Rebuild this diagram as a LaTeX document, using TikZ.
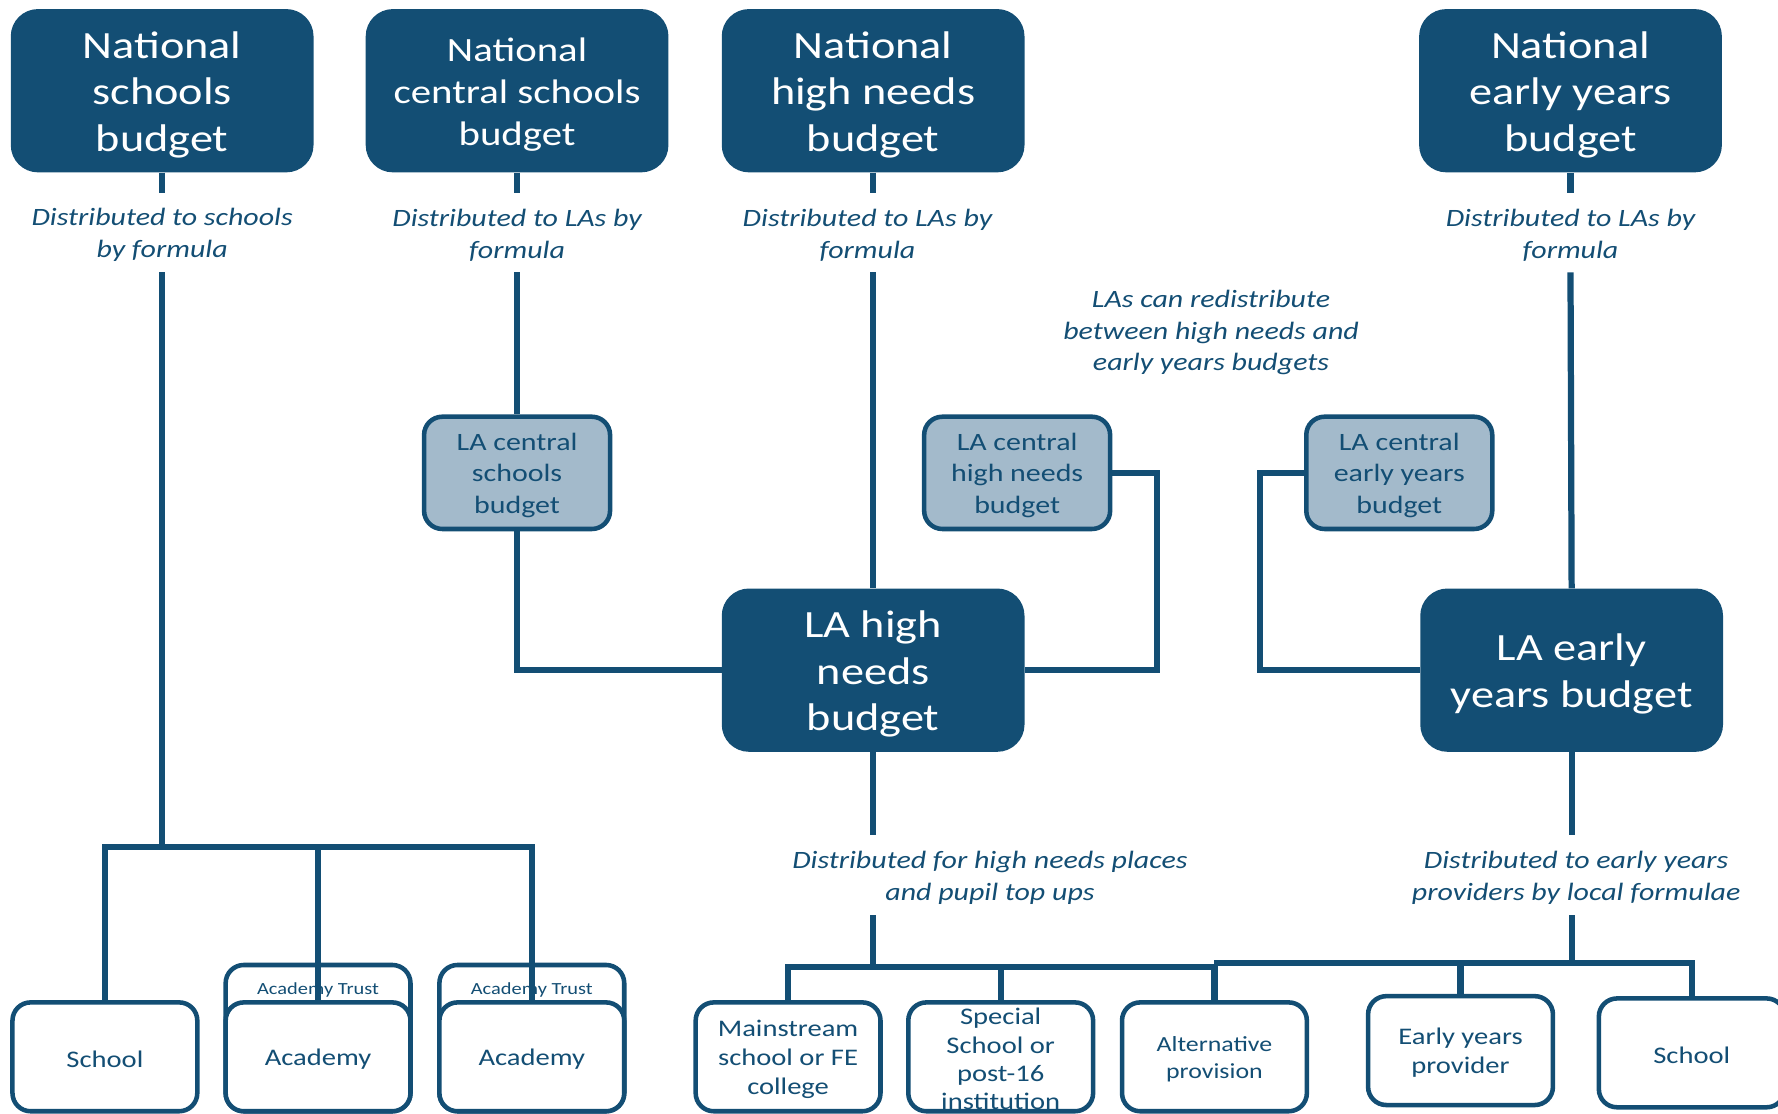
\documentclass[tikz,border=0pt]{standalone}
\usepackage{fontspec}
\setmainfont{Carlito}[FakeStretch=1.2]
\definecolor{dk}{HTML}{134E74}
\definecolor{lt}{HTML}{A3BACB}
\newcommand{\ts}{\rule{0pt}{0.9em}}
\tikzset{
  topbox/.style={rectangle, rounded corners=24pt, fill=dk, text=white, minimum width=267pt, minimum height=144pt, align=center, inner sep=0pt, font=\fontsize{34}{41}\selectfont},
  ltbox/.style={rectangle, rounded corners=16pt, fill=lt, draw=dk, line width=4pt, text=dk, minimum width=164pt, minimum height=99pt, align=center, inner sep=0pt, font=\fontsize{22}{27.5}\selectfont},
  wbox/.style={rectangle, rounded corners=16pt, fill=white, draw=dk, line width=4pt, text=dk, minimum width=163pt, minimum height=96pt, align=center, inner sep=0pt, font=\fontsize{21}{25.5}\selectfont},
  lbl/.style={text=dk, align=center, inner sep=0pt, minimum height=70pt, font=\itshape\fontsize{22}{28}\selectfont},
  trust/.style={text=dk, font=\fontsize{15}{17}\selectfont, inner sep=0pt},
  conn/.style={draw=dk, line width=5.5pt},
}
\begin{document}
\begin{tikzpicture}[x=1pt,y=-1pt]
\useasboundingbox (0,0) rectangle (1568,982);
% top boxes
\node[topbox] (nsb) at (143,80) {\ts National\\schools\\budget};
\node[topbox, font=\fontsize{30}{37}\selectfont] (ncsb) at (456,80) {\ts National\\central schools\\budget};
\node[topbox] (nhnb) at (770,80) {\ts National\\high needs\\budget};
\node[topbox] (neyb) at (1385,80) {\ts National\\early years\\budget};
% labels
\node[lbl] (l1) at (143,205) {\ts Distributed to schools\\by formula};
\node[lbl] (l2) at (456,205) {\ts Distributed to LAs by\\formula};
\node[lbl] (l3) at (765,205) {\ts Distributed to LAs by\\formula};
\node[lbl] (l4) at (1385,205) {\ts Distributed to LAs by\\formula};
\node[lbl] (lr) at (1068,291) {\ts LAs can redistribute\\between high needs and\\early years budgets};
\node[lbl] (l5) at (873,772) {\ts Distributed for high needs places\\and pupil top ups};
\node[lbl] (l6) at (1390,772) {\ts Distributed to early years\\providers by local formulae};
% light boxes
\node[ltbox] (lcs) at (456,417) {\ts LA central\\schools\\budget};
\node[ltbox] (lchn) at (897,417) {\ts LA central\\high needs\\budget};
\node[ltbox] (lcey) at (1234,417) {\ts LA central\\early years\\budget};
% LA boxes
\node[topbox] (lahn) at (770,591) {\ts LA high\\needs\\budget};
\node[topbox] (laey) at (1386,591) {\ts LA early\\years budget};
% bottom left
\node[wbox] (sch1) at (92.5,932) {\ts School};
\node[wbox, minimum height=129pt] (at1) at (280.5,915.5) {};
\node[wbox, minimum height=129pt] (at2) at (469,915.5) {};
\node[trust] (t1) at (280.5,873) {Academy Trust};
\node[trust] (t2) at (469,873) {Academy Trust};
\node[wbox] (ac1) at (280.5,932) {\ts Academy};
\node[wbox] (ac2) at (469,932) {\ts Academy};
% bottom right
\node[wbox] (ms) at (695,932) {\ts Mainstream\\school or FE\\college};
\node[wbox, font=\fontsize{21}{25}\selectfont] (sp) at (882.5,932) {\ts Special\\School or\\post-16\\institution};
\node[wbox, font=\fontsize{19}{24}\selectfont] (alt) at (1071,932) {\ts Alternative\\provision};
\node[wbox] (eyp) at (1288,926.5) {\ts Early years\\provider};
\node[wbox, minimum width=164pt] (sch2) at (1492,928.5) {\ts School};
% connectors
\coordinate (b1) at (143,747);
\coordinate (hb) at (770,853);
\coordinate (eb) at (1386,849);
\draw[conn] (nsb.south) -- (l1.north);
\draw[conn] (l1.south) -- (b1);
\draw[conn] (sch1.north) |- (b1) -| (ac2.north);
\draw[conn] (ac1.north) -- (ac1.north |- b1);
\draw[conn] (ncsb.south) -- (l2.north);
\draw[conn] (l2.south) -- (lcs.north);
\draw[conn] (lcs.south) |- (lahn.west);
\draw[conn] (nhnb.south) -- (nhnb.south |- l3.north);
\draw[conn] (nhnb.south |- l3.south) -- (lahn.north);
\draw[conn] (lchn.east) -- ++(39,0) |- (lahn.east);
\draw[conn] (neyb.south) -- (l4.north);
\draw[conn] (l4.south) -- (laey.north);
\draw[conn] (lcey.west) -- ++(-39,0) |- (laey.west);
\draw[conn] (lahn.south) -- (lahn.south |- l5.north);
\draw[conn] (lahn.south |- l5.south) -- (hb);
\draw[conn] (ms.north) |- (hb) -| (alt.north);
\draw[conn] (sp.north) -- (sp.north |- hb);
\draw[conn] (laey.south) -- (laey.south |- l6.north);
\draw[conn] (laey.south |- l6.south) -- (eb);
\draw[conn] (alt.north |- eb) -- (eb) -| (sch2.north);
\draw[conn] (eyp.north) -- (eyp.north |- eb);
\end{tikzpicture}
\end{document}
